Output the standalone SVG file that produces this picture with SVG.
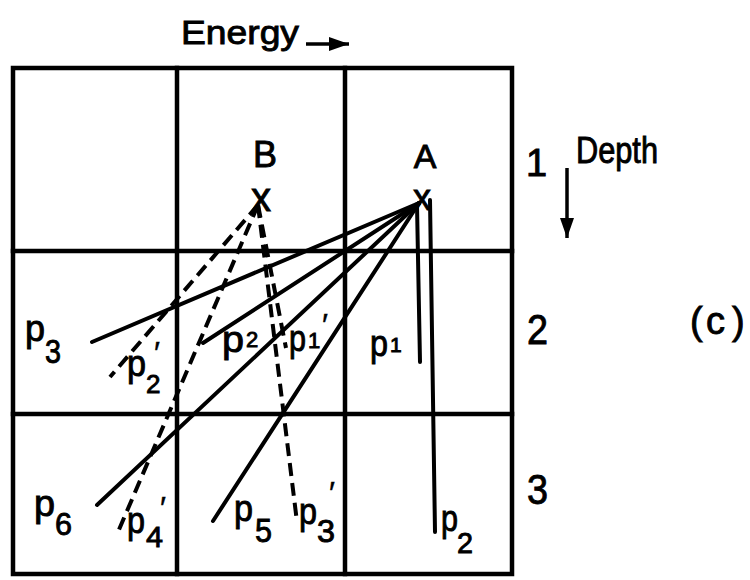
<svg xmlns="http://www.w3.org/2000/svg" width="750" height="580" viewBox="0 0 750 580">
<defs>
<style>
text{font-family:"Liberation Sans","DejaVu Sans",sans-serif;fill:#000;stroke:#000;stroke-width:0.9}
.grid{stroke:#000;stroke-width:4.5;fill:none;stroke-linecap:square}
.sol{stroke:#000;stroke-width:4;fill:none;stroke-linecap:round}
.dash{stroke:#000;stroke-width:4;fill:none;stroke-dasharray:13 7;stroke-linecap:butt}
.arr{stroke:#000;stroke-width:3.5;fill:none}
.p{font-size:36px}
.pr{font-size:32px;stroke-width:0.4}
</style>
<marker id="ah" viewBox="0 0 20 14" refX="20" refY="7" markerWidth="20" markerHeight="14" markerUnits="userSpaceOnUse" orient="auto">
<path d="M0,0 L20,7 L0,14 Z" fill="#000"/>
</marker>
</defs>
<rect width="750" height="580" fill="#fff"/>

<g id="grid">
<rect class="grid" x="13" y="68" width="499" height="506"/>
<line class="grid" x1="177" y1="68" x2="177" y2="574"/>
<line class="grid" x1="345" y1="68" x2="345" y2="574"/>
<line class="grid" x1="13" y1="251" x2="512" y2="251"/>
<line class="grid" x1="13" y1="414" x2="512" y2="414"/>
</g>

<g id="axes">
<text x="181" y="44" font-size="34" textLength="118" lengthAdjust="spacingAndGlyphs">Energy</text>
<line class="arr" x1="306" y1="44" x2="349" y2="44" marker-end="url(#ah)"/>
<text x="576" y="163" font-size="36" textLength="82" lengthAdjust="spacingAndGlyphs">Depth</text>
<line class="arr" x1="567" y1="168" x2="567" y2="238" marker-end="url(#ah)"/>
<text x="526" y="176" font-size="38">1</text>
<text x="527" y="344" font-size="42" textLength="21" lengthAdjust="spacingAndGlyphs">2</text>
<text x="527" y="504" font-size="42" textLength="21" lengthAdjust="spacingAndGlyphs">3</text>
<text x="690 706 732" y="334" font-size="38">(c)</text>
</g>

<g id="connectors">
<line class="sol" x1="419" y1="203" x2="92" y2="342"/>
<line class="sol" x1="419" y1="203" x2="203" y2="343"/>
<line class="sol" x1="419" y1="203" x2="97" y2="505"/>
<line class="sol" x1="419" y1="203" x2="213" y2="521"/>
<line class="sol" x1="417" y1="205" x2="420" y2="362"/>
<line class="sol" x1="430" y1="200" x2="435" y2="532"/>
<line class="dash" x1="258" y1="205" x2="110" y2="377"/>
<line class="dash" x1="258" y1="205" x2="118" y2="532"/>
<line class="dash" x1="258" y1="205" x2="286" y2="348"/>
<line class="dash" x1="258" y1="205" x2="297" y2="522"/>
</g>

<g id="node-A">
<text x="425" y="168" font-size="34" text-anchor="middle">A</text>
<text x="422" y="210" font-size="36" text-anchor="middle">x</text>
</g>
<g id="node-B">
<text x="265" y="167" font-size="36" text-anchor="middle">B</text>
<text x="261" y="211" font-size="40" text-anchor="middle">x</text>
</g>

<g id="label-p3">
<text class="p" x="25" y="341" textLength="20" lengthAdjust="spacingAndGlyphs">p</text>
<text x="45" y="363" font-size="34" textLength="16" lengthAdjust="spacingAndGlyphs">3</text>
</g>
<g id="label-p2prime">
<text class="p" x="127" y="376" textLength="19" lengthAdjust="spacingAndGlyphs">p</text>
<text x="146" y="393" font-size="26">2</text>
<text class="pr" x="154" y="364">′</text>
</g>
<g id="label-p2-mid">
<text class="p" x="222" y="352" textLength="22" lengthAdjust="spacingAndGlyphs">p</text>
<text x="246" y="347" font-size="22">2</text>
</g>
<g id="label-p1prime">
<text class="p" x="289" y="351" textLength="17" lengthAdjust="spacingAndGlyphs">p</text>
<text x="308" y="348" font-size="22">1</text>
<text class="pr" x="322" y="336">′</text>
</g>
<g id="label-p1">
<text class="p" x="370" y="356" textLength="18" lengthAdjust="spacingAndGlyphs">p</text>
<text x="390" y="352" font-size="21">1</text>
</g>
<g id="label-p6">
<text class="p" x="34" y="516" textLength="21" lengthAdjust="spacingAndGlyphs">p</text>
<text x="55" y="535" font-size="32" textLength="17" lengthAdjust="spacingAndGlyphs">6</text>
</g>
<g id="label-p4prime">
<text class="p" x="127" y="533" textLength="18" lengthAdjust="spacingAndGlyphs">p</text>
<text x="146" y="547" font-size="30" textLength="17" lengthAdjust="spacingAndGlyphs">4</text>
<text class="pr" x="160" y="519">′</text>
</g>
<g id="label-p5">
<text class="p" x="234" y="521" textLength="19" lengthAdjust="spacingAndGlyphs">p</text>
<text x="255" y="542" font-size="34" textLength="17" lengthAdjust="spacingAndGlyphs">5</text>
</g>
<g id="label-p3prime">
<text class="p" x="299" y="524" textLength="18" lengthAdjust="spacingAndGlyphs">p</text>
<text x="317" y="542" font-size="32" textLength="18" lengthAdjust="spacingAndGlyphs">3</text>
<text class="pr" x="329" y="504">′</text>
</g>
<g id="label-p2-bot">
<text class="p" x="441" y="531" textLength="17" lengthAdjust="spacingAndGlyphs">p</text>
<text x="457" y="553" font-size="30" textLength="16" lengthAdjust="spacingAndGlyphs">2</text>
</g>
</svg>
